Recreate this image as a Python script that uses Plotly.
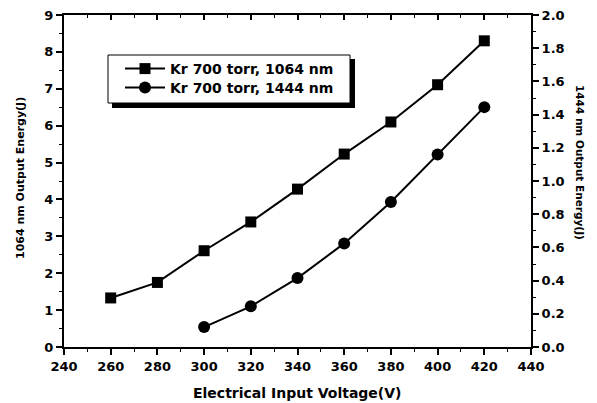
import plotly.graph_objects as go

voltage_1064 = [260, 280, 300, 320, 340, 360, 380, 400, 420]
energy_1064 = [1.33, 1.75, 2.61, 3.39, 4.28, 5.23, 6.10, 7.11, 8.30]
voltage_1444 = [300, 320, 340, 360, 380, 400, 420]
energy_1444 = [0.12, 0.245, 0.415, 0.624, 0.874, 1.159, 1.445]

W, H = 597, 403
ML, MR, MT, MB = 64, 66, 15, 56
FONT = "DejaVu Sans"

fig = go.Figure()
fig.add_trace(go.Scatter(x=voltage_1064, y=energy_1064, mode="lines+markers",
                         name="<b>Kr 700 torr, 1064 nm</b>", legend="legend",
                         line=dict(color="black", width=2),
                         marker=dict(symbol="square", size=11, color="black")))
fig.add_trace(go.Scatter(x=voltage_1444, y=energy_1444, mode="lines+markers",
                         name="<b>Kr 700 torr, 1444 nm</b>", yaxis="y2", legend="legend2",
                         line=dict(color="black", width=2),
                         marker=dict(symbol="circle", size=12, color="black")))

pw = W - ML - MR
ph = H - MT - MB
def px(x):
    return (x - ML) / pw
def py(y):
    return (H - MB - y) / ph

legfont = dict(family=FONT, size=14, color="black")
def leg(yc):
    return dict(x=px(120), y=py(yc), xanchor="left", yanchor="middle",
                bgcolor="rgba(0,0,0,0)", borderwidth=0, font=legfont,
                itemwidth=40, tracegroupgap=0)

tickfont = dict(family=FONT, size=13, color="black", weight="bold")
fig.update_layout(
    width=W, height=H,
    margin=dict(l=ML, r=MR, t=MT, b=MB, autoexpand=False),
    paper_bgcolor="white", plot_bgcolor="white",
    font=dict(family=FONT, color="black"),
    showlegend=True,
    legend=leg(69),
    legend2=leg(88),
    xaxis=dict(range=[240, 440], dtick=20, showgrid=False, zeroline=False,
               showline=True, linecolor="black", linewidth=2,
               ticks="outside", ticklen=6, tickwidth=2, tickcolor="black",
               tickfont=tickfont,
               minor=dict(dtick=10, ticks="outside", ticklen=3, tickwidth=1, tickcolor="black")),
    xaxis2=dict(range=[240, 440], dtick=20, overlaying="x", side="top", anchor="y",
                showgrid=False, zeroline=False, showline=True, linecolor="black", linewidth=2,
                ticks="inside", ticklen=5, tickwidth=2, tickcolor="black", showticklabels=False,
                minor=dict(dtick=10, ticks="inside", ticklen=3, tickwidth=1, tickcolor="black")),
    yaxis=dict(range=[0, 9], dtick=1, showgrid=False, zeroline=False,
               showline=True, linecolor="black", linewidth=2,
               ticks="outside", ticklen=6, tickwidth=2, tickcolor="black",
               tickfont=tickfont,
               minor=dict(dtick=0.5, ticks="outside", ticklen=3, tickwidth=1, tickcolor="black")),
    yaxis2=dict(range=[0, 2], dtick=0.2, tickformat=".1f", overlaying="y", side="right",
                showgrid=False, zeroline=False, showline=True, linecolor="black", linewidth=2,
                ticks="outside", ticklen=6, tickwidth=2, tickcolor="black",
                tickfont=tickfont,
                minor=dict(dtick=0.1, ticks="outside", ticklen=3, tickwidth=1, tickcolor="black")),
)
# dummy trace so xaxis2 shows
fig.add_trace(go.Scatter(x=[None], y=[None], xaxis="x2", showlegend=False, hoverinfo="skip"))

# legend frame with shadow
fig.add_shape(type="rect", xref="paper", yref="paper",
              x0=px(112), x1=px(355), y0=py(108), y1=py(59),
              fillcolor="black", line=dict(width=0), layer="below")
fig.add_shape(type="rect", xref="paper", yref="paper",
              x0=px(108), x1=px(350), y0=py(103), y1=py(55),
              fillcolor="white", line=dict(color="black", width=1), layer="below")

fig.add_annotation(text="<b>1064 nm Output Energy(J)</b>", xref="paper", yref="paper",
                   x=px(20), y=py(178), xanchor="center", yanchor="middle",
                   textangle=-90, showarrow=False,
                   font=dict(family=FONT, size=11, color="black"))
fig.add_annotation(text="<b>1444 nm Output Energy(J)</b>", xref="paper", yref="paper",
                   x=px(580), y=py(162), xanchor="center", yanchor="middle",
                   textangle=90, showarrow=False,
                   font=dict(family=FONT, size=10.5, color="black"))
fig.add_annotation(text="<b>Electrical Input Voltage(V)</b>", xref="paper", yref="paper",
                   x=px(297), y=py(393), xanchor="center", yanchor="middle",
                   showarrow=False,
                   font=dict(family=FONT, size=14, color="black"))

fig.write_html("out.html", post_script="document.body.style.margin='0';",
               config={"displayModeBar": False})
